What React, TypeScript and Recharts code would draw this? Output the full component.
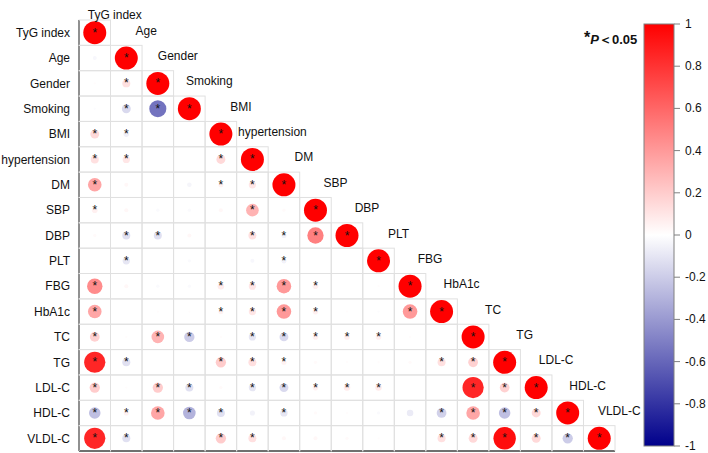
import { ScatterChart, Scatter, XAxis, YAxis } from "recharts"

const VARS = [
  "TyG index", "Age", "Gender", "Smoking", "BMI", "hypertension", "DM", "SBP", "DBP",
  "PLT", "FBG", "HbA1c", "TC", "TG", "LDL-C", "HDL-C", "VLDL-C",
]

// lower triangle, row i holds the correlations with columns 0..i-1
const CORR: number[][] = [
  [],
  [-0.03],
  [0.01, 0.12],
  [-0.01, -0.15, -0.55],
  [0.15, -0.06, 0, 0],
  [0.12, 0.1, 0, 0, 0.15],
  [0.35, 0.03, 0, -0.04, 0.05, 0.1],
  [0.06, 0.03, -0.02, -0.02, 0.03, 0.3, 0.02],
  [0.02, -0.12, -0.12, 0.03, 0, 0.12, -0.05, 0.5],
  [0, -0.1, 0, -0.02, 0, -0.03, -0.05, 0, 0],
  [0.45, 0.03, -0.02, -0.02, 0.08, 0.1, 0.4, 0.06, 0, 0.01],
  [0.35, 0, 0.01, 0.01, 0.05, 0.1, 0.4, 0.06, 0.01, -0.01, 0.4],
  [0.18, 0.01, 0.3, -0.2, 0.01, -0.1, -0.15, 0.06, 0.06, 0.06, 0.01, 0],
  [0.85, -0.12, 0, 0, 0.2, 0.12, 0.05, 0.02, 0.01, 0.01, 0.02, 0.12, 0.18],
  [0.2, 0.01, 0.2, -0.12, 0.02, -0.1, -0.15, 0.06, 0.08, 0.08, 0, 0, 0.85, 0.18],
  [-0.25, 0.05, 0.35, -0.3, -0.12, -0.05, -0.1, 0.02, 0.01, -0.02, -0.08, -0.18, 0.35, -0.25, 0.15],
  [0.85, -0.12, 0, 0, 0.2, 0.12, 0.03, 0.03, 0.02, 0.01, 0, 0.12, 0.15, 0.95, 0.15, -0.2],
]

// 1 = P < 0.05
const SIG: number[][] = [
  [],
  [0],
  [0, 1],
  [0, 1, 1],
  [1, 1, 0, 0],
  [1, 1, 0, 0, 1],
  [1, 0, 0, 0, 1, 1],
  [1, 0, 0, 0, 0, 1, 0],
  [0, 1, 1, 0, 0, 1, 1, 1],
  [0, 1, 0, 0, 0, 0, 1, 0, 0],
  [1, 0, 0, 0, 1, 1, 1, 1, 0, 0],
  [1, 0, 0, 0, 1, 1, 1, 1, 0, 0, 1],
  [1, 0, 1, 1, 0, 1, 1, 1, 1, 1, 0, 0],
  [1, 1, 0, 0, 1, 1, 1, 0, 0, 0, 0, 1, 1],
  [1, 0, 1, 1, 0, 1, 1, 1, 1, 1, 0, 0, 1, 1],
  [1, 1, 1, 1, 1, 0, 1, 0, 0, 0, 0, 1, 1, 1, 1],
  [1, 1, 0, 0, 1, 1, 0, 0, 0, 0, 0, 1, 1, 1, 1, 1],
]

const CBAR_TICKS = [1, 0.8, 0.6, 0.4, 0.2, 0, -0.2, -0.4, -0.6, -0.8, -1]

const W = 708
const H = 453
const MARGIN = { top: 20, right: 93, bottom: 0, left: 0 }
const Y_W = 79
const X_H = 2
const N = VARS.length
const CELL_W = (W - MARGIN.right - Y_W) / N
const CELL_H = (H - MARGIN.top - X_H) / N
const MAX_R = 11.5
const FONT = "'Liberation Sans', Arial, sans-serif"

function corrColor(r: number) {
  if (r >= 0) {
    const c = Math.round(255 * (1 - Math.min(r, 1)))
    return `rgb(255,${c},${c})`
  }
  const t = Math.min(-r, 1)
  const c = Math.round(255 * (1 - t))
  return `rgb(${c},${c},${Math.round(255 - 116 * t)})`
}

const cells: { x: number; y: number; r: number; sig: boolean }[] = []
for (let i = 0; i < N; i++) {
  for (let j = 0; j <= i; j++) {
    const r = i === j ? 1 : CORR[i][j]
    cells.push({ x: j, y: i, r, sig: i === j ? true : SIG[i][j] === 1 })
  }
}

const CellShape = (props: any) => {
  const { cx, cy, payload } = props
  const rad = MAX_R * Math.sqrt(Math.abs(payload.r))
  const diag = payload.x === payload.y
  return (
    <g>
      <rect
        x={cx - CELL_W / 2}
        y={cy - CELL_H / 2}
        width={CELL_W}
        height={CELL_H}
        fill="none"
        stroke="#e0e0e0"
        strokeWidth={1}
      />
      {rad > 0.4 && <circle cx={cx} cy={cy} r={rad} fill={corrColor(payload.r)} />}
      {payload.sig && (
        <text x={cx} y={cy + 4} textAnchor="middle" fontSize={12} fontFamily={FONT} fill="#111">
          *
        </text>
      )}
      {diag && payload.x === 0 && (
        <text x={cx + 20} y={cy - 18} textAnchor="middle" dominantBaseline="central" fontSize={12} fontFamily={FONT} fill="#111">
          {VARS[0]}
        </text>
      )}
      {diag && payload.x + 1 < N && (
        <text
          x={cx + CELL_W + 20}
          y={cy - 2}
          textAnchor="middle"
          dominantBaseline="central"
          fontSize={12}
          fontFamily={FONT}
          fill="#111"
        >
          {VARS[payload.x + 1]}
        </text>
      )}
    </g>
  )
}

const CB_X = 644
const CB_TOP = 24
const CB_BOTTOM = 446
const CB_W = 30

function ColorBar() {
  const h = CB_BOTTOM - CB_TOP
  return (
    <svg width={W} height={H} style={{ position: "absolute", left: 0, top: 0, pointerEvents: "none" }}>
      <defs>
        <linearGradient id="cbar" x1="0" y1="0" x2="0" y2="1">
          <stop offset="0%" stopColor={corrColor(1)} />
          <stop offset="25%" stopColor={corrColor(0.5)} />
          <stop offset="50%" stopColor="#ffffff" />
          <stop offset="75%" stopColor={corrColor(-0.5)} />
          <stop offset="100%" stopColor={corrColor(-1)} />
        </linearGradient>
      </defs>
      <rect x={CB_X} y={CB_TOP} width={CB_W} height={h} fill="url(#cbar)" stroke="#808080" strokeWidth={1} />
      {CBAR_TICKS.map((t) => {
        const y = CB_TOP + ((1 - t) / 2) * h
        return (
          <g key={t}>
            <line x1={CB_X + CB_W} x2={CB_X + CB_W + 6} y1={y} y2={y} stroke="#808080" />
            <text x={CB_X + CB_W + 11} y={y} dominantBaseline="central" fontSize={12} fontFamily={FONT} fill="#111">
              {t}
            </text>
          </g>
        )
      })}
      <text x={584} y={44} fontSize={13} fontFamily={FONT} fontWeight="bold" fill="#111">
        <tspan fontSize={16} dy={-1}>*</tspan>
        <tspan fontStyle="italic" dy={1}>P</tspan>
        <tspan>＜0.05</tspan>
      </text>
    </svg>
  )
}

export default function App() {
  return (
    <div style={{ position: "absolute", left: 0, top: 0, width: W, height: H, background: "#fff" }}>
      <ScatterChart width={W} height={H} margin={MARGIN}>
        <XAxis
          type="number"
          dataKey="x"
          domain={[-0.5, N - 0.5]}
          ticks={[]}
          tick={false}
          tickLine={false}
          height={X_H}
          axisLine={{ stroke: "#000", strokeWidth: 2 }}
        />
        <YAxis
          type="number"
          dataKey="y"
          reversed
          domain={[-0.5, N - 0.5]}
          ticks={VARS.map((_, i) => i)}
          interval={0}
          tickFormatter={(v: number) => VARS[v]}
          tickLine={false}
          tickMargin={3}
          width={Y_W}
          axisLine={{ stroke: "#000", strokeWidth: 1.5 }}
          tick={{ fontSize: 12, fontFamily: FONT, fill: "#111" }}
        />
        <Scatter data={cells} shape={CellShape} isAnimationActive={false} />
      </ScatterChart>
      <ColorBar />
    </div>
  )
}
